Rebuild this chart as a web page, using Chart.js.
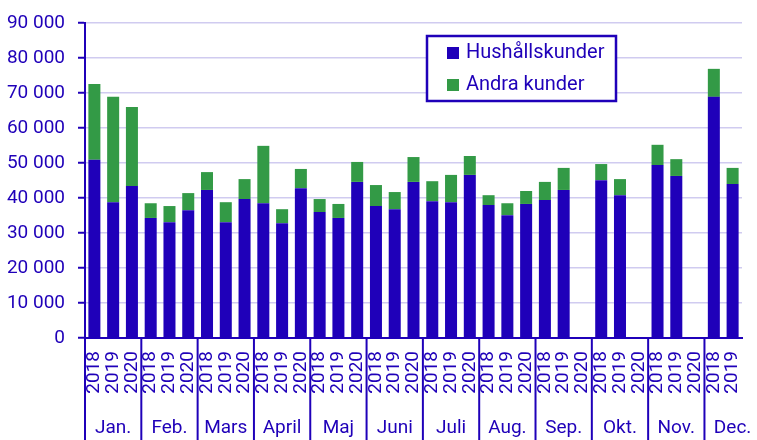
<!DOCTYPE html>
<html lang="sv">
<head>
<meta charset="utf-8">
<title>Hushållskunder och andra kunder per månad</title>
<script src="https://cdn.jsdelivr.net/npm/chart.js@4"></script>
<style>
  body { margin: 0; background: #fff; }
  #wrap { width: 757px; height: 440px; }
</style>
</head>
<body>
<div id="wrap"><canvas id="my-chart" width="757" height="440"></canvas></div>
<script>
'use strict';

// ******** DATA **************
let monthLabels = ['Jan.', 'Feb.', 'Mars', 'April', 'Maj', 'Juni', 'Juli', 'Aug.', 'Sep.', 'Okt.', 'Nov.', 'Dec.'];

let yearLabels = [
  '2018', '2019', '2020', '2018', '2019', '2020', '2018', '2019', '2020',
  '2018', '2019', '2020', '2018', '2019', '2020', '2018', '2019', '2020',
  '2018', '2019', '2020', '2018', '2019', '2020', '2018', '2019', '2020',
  '2018', '2019', '2020', '2018', '2019', '2020', '2018', '2019'
];

let householdValues = [
  50900, 38800, 43400, 34300, 33100, 36500, 42300, 33100, 39700,
  38500, 32800, 42800, 36000, 34300, 44600, 37700, 36800, 44600,
  39100, 38800, 46600, 38000, 35100, 38300, 39400, 42300, null,
  45100, 40800, null, 49400, 46300, null, 68900, 44000
];

let otherValues = [
  21700, 30100, 22600, 4200, 4600, 4900, 5100, 5700, 5700,
  16400, 4000, 5500, 3700, 4000, 5700, 6000, 4900, 7100,
  5700, 7800, 5400, 2800, 3400, 3700, 5200, 6300, null,
  4600, 4600, null, 5800, 4800, null, 8000, 4600
];

let yTicks = [0, 10000, 20000, 30000, 40000, 50000, 60000, 70000, 80000, 90000];

// ******** STYLE **************
let blue = '#1f00b9';
let green = '#339a46';
let gridColor = '#d0cbf0';
let fontFamily = 'Roboto, "Liberation Sans", sans-serif';

Chart.defaults.font.family = fontFamily;
Chart.defaults.font.size = 19;
Chart.defaults.color = blue;

// month labels and separator lines under the year ticks
let monthAxisPlugin = {
  id: 'monthAxis',
  afterDraw(chart) {
    let ctx = chart.ctx;
    let x = chart.scales.x;
    let bottom = x.top;
    let step = x.getPixelForValue(1) - x.getPixelForValue(0);
    ctx.save();
    ctx.strokeStyle = blue;
    ctx.lineWidth = 2;
    ctx.fillStyle = blue;
    ctx.font = '19px ' + fontFamily;
    ctx.textAlign = 'center';
    ctx.textBaseline = 'alphabetic';
    for (let m = 0; m < monthLabels.length; m++) {
      let start = x.getPixelForValue(m * 3) - step / 2;
      ctx.beginPath();
      ctx.moveTo(start, bottom);
      ctx.lineTo(start, chart.height);
      ctx.stroke();
      let center = start + step * 1.5;
      let w = ctx.measureText(monthLabels[m]).width;
      center = Math.min(center, chart.width - w / 2 - 1);
      ctx.fillText(monthLabels[m], center, 433);
    }
    ctx.restore();
  }
};

// legend box inside the chart area
let boxLegendPlugin = {
  id: 'boxLegend',
  afterDraw(chart) {
    let ctx = chart.ctx;
    let sets = chart.data.datasets;
    ctx.save();
    ctx.strokeStyle = blue;
    ctx.lineWidth = 2.5;
    ctx.fillStyle = '#fff';
    ctx.fillRect(427, 36, 189, 65);
    ctx.strokeRect(427, 36, 189, 65);
    ctx.font = '20px ' + fontFamily;
    ctx.textBaseline = 'middle';
    ctx.textAlign = 'left';
    for (let i = 0; i < sets.length; i++) {
      let cy = 53 + i * 32;
      ctx.fillStyle = sets[i].backgroundColor;
      ctx.fillRect(447, cy - 6, 12, 12);
      ctx.fillStyle = blue;
      ctx.fillText(sets[i].label, 466, cy);
    }
    ctx.restore();
  }
};

let canvasElem = document.getElementById('my-chart');

let myObj = {
  type: 'bar',
  data: {
    labels: yearLabels,
    datasets: [{
      label: 'Hushållskunder',
      data: householdValues,
      backgroundColor: blue,
      barPercentage: 0.64,
      categoryPercentage: 1
    },
    {
      label: 'Andra kunder',
      data: otherValues,
      backgroundColor: green,
      barPercentage: 0.64,
      categoryPercentage: 1
    }]
  },
  options: {
    responsive: false,
    animation: false,
    devicePixelRatio: 1,
    layout: {
      padding: { top: 23, right: 15, left: 0, bottom: 0 }
    },
    plugins: {
      legend: { display: false },
      tooltip: { enabled: false }
    },
    scales: {
      x: {
        stacked: true,
        grid: { display: false, drawTicks: false },
        border: { display: true, color: blue, width: 2 },
        ticks: {
          color: blue,
          minRotation: 90,
          maxRotation: 90,
          autoSkip: false,
          padding: 13,
          font: { size: 19 }
        },
        afterFit(scale) {
          scale.height = 102;
          scale.paddingLeft = 0;
          scale.paddingRight = 0;
        }
      },
      y: {
        stacked: true,
        min: 0,
        max: 90000,
        afterBuildTicks(scale) {
          scale.ticks = yTicks.map(v => ({ value: v }));
        },
        grid: {
          color: gridColor,
          lineWidth: 1.5,
          tickColor: blue,
          tickLength: 7,
          tickWidth: 2
        },
        border: { display: true, color: blue, width: 2 },
        ticks: {
          color: blue,
          padding: 13,
          font: { size: 19 },
          callback: function (v) {
            return String(v).replace(/\B(?=(\d{3})+(?!\d))/g, ' ');
          }
        },
        afterFit(scale) {
          scale.width = 85;
          scale.paddingTop = 0;
          scale.paddingBottom = 0;
        }
      }
    }
  },
  plugins: [monthAxisPlugin, boxLegendPlugin]
};

new Chart(canvasElem, myObj);
</script>
</body>
</html>
